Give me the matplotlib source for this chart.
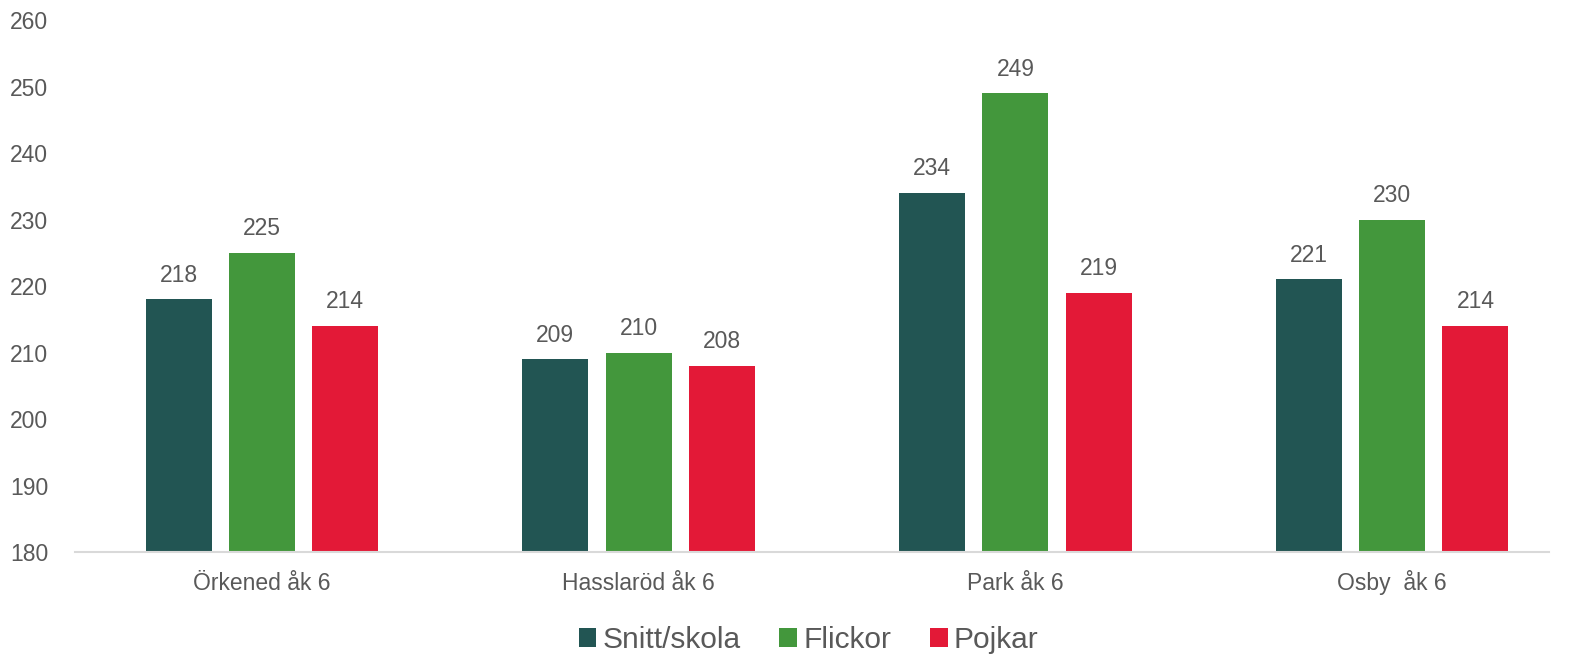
import matplotlib.pyplot as plt
import numpy as np

plt.rcParams['font.family'] = ['Liberation Sans', 'DejaVu Sans']

schools = ['Örkened åk 6', 'Hasslaröd åk 6', 'Park åk 6', 'Osby  åk 6']
series = ['Snitt/skola', 'Flickor', 'Pojkar']
snitt = [218, 209, 234, 221]
flickor = [225, 210, 249, 230]
pojkar = [214, 208, 219, 214]
colors = ['#225553', '#43973C', '#E31937']
ticks = [180, 190, 200, 210, 220, 230, 240, 250, 260]

text_color = '#595959'

fig = plt.figure(figsize=(15.73, 6.56), dpi=100)
ax = fig.add_axes([0.0477, 0.1585, 0.9370, 0.811])

x = np.arange(len(schools))
width = 0.175
offset = 0.221
for i, (vals, name, col) in enumerate(zip([snitt, flickor, pojkar], series, colors)):
    bars = ax.bar(x + (i - 1) * offset, vals, width, color=col, label=name)
    ax.bar_label(bars, padding=9, fontsize=16.5, color=text_color)

ax.set_ylim(180, 260)
ax.set_xlim(-0.496, 3.416)
ax.set_yticks(ticks)
ax.set_xticks(x)
ax.set_xticklabels(schools)
ax.tick_params(axis='both', length=0, labelsize=16.5, labelcolor=text_color)
ax.tick_params(axis='x', pad=27)
ax.tick_params(axis='y', pad=47)
for lbl in ax.get_yticklabels():
    lbl.set_horizontalalignment('left')
for lbl in ax.get_xticklabels():
    lbl.set_verticalalignment('baseline')

for s in ['top', 'right', 'left']:
    ax.spines[s].set_visible(False)
ax.spines['bottom'].set_color('#d9d9d9')
ax.spines['bottom'].set_linewidth(1.5)

leg = fig.legend(loc='center', bbox_to_anchor=(0.514, 0.024), ncol=3, frameon=False,
                 fontsize=21.5, handlelength=0.6, handleheight=0.6, handletextpad=0.2,
                 columnspacing=1.3, labelcolor=text_color)

fig.savefig('out.png', dpi=100)
